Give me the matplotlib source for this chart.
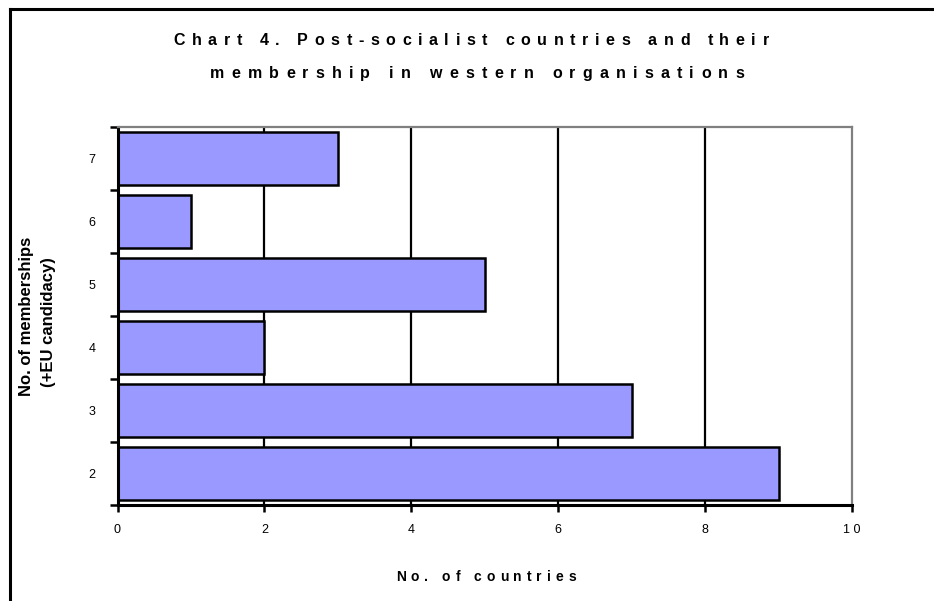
import matplotlib
matplotlib.use("Agg")
import matplotlib.pyplot as plt
from matplotlib.lines import Line2D

# Data
memberships = [2, 3, 4, 5, 6, 7]          # No. of memberships (+EU candidacy)
countries = [9, 7, 2, 5, 1, 3]            # No. of countries
x_ticks = [0, 2, 4, 6, 8, 10]

title_lines = ["Chart 4. Post-socialist countries and their",
               "membership in western organisations"]
x_label = "No. of countries"
y_label_lines = ["No. of memberships", "(+EU candidacy)"]

W, H = 934, 601
plt.rcParams['font.family'] = ['Liberation Sans', 'DejaVu Sans']

fig = plt.figure(figsize=(W / 100, H / 100), dpi=100)
fig.patch.set_facecolor('white')


def px(x, y):
    """Pixel coordinates from the top-left corner to figure fraction."""
    return x / W, 1 - y / H


def tracked_text(s, cx, baseline, tracking, **kw):
    """Draw a string centred at cx with extra space between letters."""
    renderer = fig.canvas.get_renderer()

    def width(t):
        tmp = fig.text(0, 0, t, **kw)
        w = tmp.get_window_extent(renderer).width
        tmp.remove()
        return w

    bar_w = width("|")
    starts = [width(s[:i] + "|") - bar_w for i in range(len(s))]
    total = width(s) + tracking * (len(s) - 1)
    x0 = cx - total / 2
    for i, ch in enumerate(s):
        if ch == " ":
            continue
        fig.text(*px(x0 + starts[i] + i * tracking, baseline), ch,
                 ha='left', va='baseline', **kw)


# Outer frame lines (top and left)
fig.add_artist(Line2D([10 / W, 1], [1 - 9 / H, 1 - 9 / H], color='black',
                      lw=2.2, transform=fig.transFigure))
fig.add_artist(Line2D([10 / W, 10 / W], [0, 1 - 9 / H], color='black',
                      lw=2.2, transform=fig.transFigure))

# Plot area
left, right, top, bottom = 117.5, 852, 127, 505
ax = fig.add_axes([left / W, 1 - bottom / H, (right - left) / W, (bottom - top) / H])

ax.set_xlim(0, 10)
ax.set_ylim(1.5, 7.5)

# Vertical gridlines at interior ticks
inner = [t for t in x_ticks if 0 < t < 10]
ax.vlines(inner, 1.5, 7.5, colors='black', lw=1.6, zorder=1)

ax.barh(memberships, countries, height=0.83, color='#9999FF',
        edgecolor='black', linewidth=1.8, zorder=2)

for side in ('left', 'bottom'):
    ax.spines[side].set_color('black')
    ax.spines[side].set_linewidth(2.2)
for side in ('top', 'right'):
    ax.spines[side].set_color('#808080')
    ax.spines[side].set_linewidth(1.6)

ax.set_xticks(x_ticks)
ax.set_xticklabels([' '.join(str(t)) for t in x_ticks])
ax.tick_params(axis='x', direction='out', length=5, width=1.8, pad=9,
               labelsize=9, colors='black')

boundaries = [m - 0.5 for m in memberships] + [memberships[-1] + 0.5]
ax.set_yticks(boundaries)
ax.set_yticklabels([])
ax.tick_params(axis='y', which='major', direction='out', length=6, width=1.8)
ax.set_yticks(memberships, minor=True)
ax.tick_params(axis='y', which='minor', length=0, pad=16, labelsize=9)
ax.set_yticklabels([str(m) for m in memberships], minor=True)

# Titles and axis labels
tracked_text(title_lines[0], 471, 45, 6.6, fontsize=11.5, fontweight='bold')
tracked_text(title_lines[1], 477, 78, 7.2, fontsize=11.5, fontweight='bold')
tracked_text(x_label, 486, 581, 5.0, fontsize=10, fontweight='bold')

fig.text(*px(26, 316), y_label_lines[0], rotation=90, ha='center', va='center',
         fontsize=12, fontweight='bold')
fig.text(*px(48, 322), y_label_lines[1], rotation=90, ha='center', va='center',
         fontsize=12, fontweight='bold')

fig.savefig('out.png', dpi=100)
